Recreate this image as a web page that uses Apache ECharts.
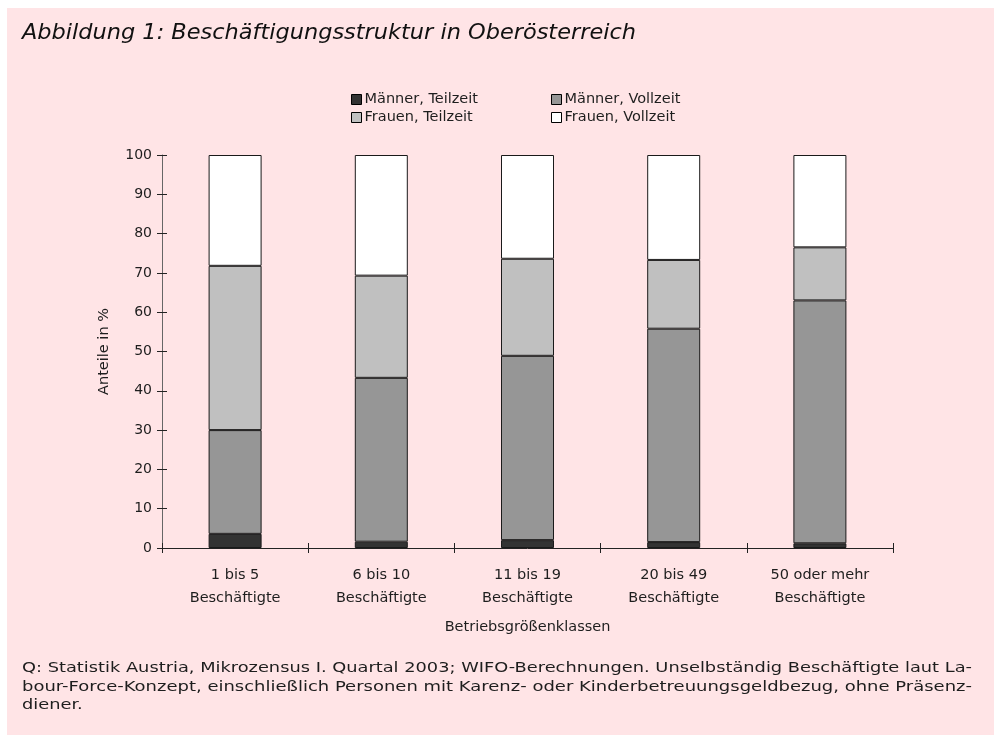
<!DOCTYPE html>
<html>
<head>
<meta charset="utf-8">
<script src="https://cdn.jsdelivr.net/npm/echarts@6/dist/echarts.min.js"></script>
<style>
  html, body { margin: 0; padding: 0; background: #ffffff; }
  #chart { width: 994px; height: 735px; }
</style>
</head>
<body>
<div id="chart"></div>
<script>
// Betriebsgrößenklassen (size classes of establishments)
const categories = ['1 bis 5\nBeschäftigte', '6 bis 10\nBeschäftigte', '11 bis 19\nBeschäftigte', '20 bis 49\nBeschäftigte', '50 oder mehr\nBeschäftigte'];

// Shares in percent, stacked from bottom to top
const maennerTeilzeit = [3.6, 1.6, 2.0, 1.5, 1.2];
const maennerVollzeit = [26.4, 41.7, 46.9, 54.3, 61.8];
const frauenTeilzeit = [41.8, 26.0, 24.7, 17.5, 13.5];
const frauenVollzeit = [28.2, 30.7, 26.4, 26.7, 23.5];

const seriesNames = ['Männer, Teilzeit', 'Männer, Vollzeit', 'Frauen, Teilzeit', 'Frauen, Vollzeit'];
const seriesData = [maennerTeilzeit, maennerVollzeit, frauenTeilzeit, frauenVollzeit];
const seriesColors = ['#333333', '#969696', '#c0c0c0', '#ffffff'];

const titleText = 'Abbildung 1: Beschäftigungsstruktur in Oberösterreich';
const noteLines = [
  'Q: Statistik Austria, Mikrozensus I. Quartal 2003; WIFO-Berechnungen. Unselbständig Beschäftigte laut La-',
  'bour-Force-Konzept, einschließlich Personen mit Karenz- oder Kinderbetreuungsgeldbezug, ohne Präsenz-',
  'diener.'
];

const FONT = 'DejaVu Sans';
const TEXT = '#1e1e1e';

// Horizontal stretch factor so a line fills a given width (used for the
// justified source note and the wide title face).
const measureCtx = document.createElement('canvas').getContext('2d');
function stretchTo(text, font, width) {
  measureCtx.font = font;
  return width / measureCtx.measureText(text).width;
}

const titleFont = 'italic 21px "' + FONT + '"';
const noteFont = '14.5px "' + FONT + '"';
const noteStretch = stretchTo(noteLines[0], noteFont, 950);

const chart = echarts.init(document.getElementById('chart'), null, { renderer: 'canvas' });

// One legend per entry, laid out as a 2x2 block
const legendSlots = [[351, 92], [551, 92], [351, 110], [551, 110]];
const legends = seriesNames.map((name, i) => ({
  left: legendSlots[i][0],
  top: legendSlots[i][1],
  padding: 0,
  itemWidth: 10,
  itemHeight: 10,
  itemGap: 0,
  icon: 'rect',
  itemStyle: { borderColor: '#000', borderWidth: 1 },
  textStyle: { fontFamily: FONT, fontSize: 14.5, color: TEXT, padding: [0, 0, 0, -2] },
  selectedMode: false,
  data: [name]
}));

const option = {
  backgroundColor: '#ffffff',
  animation: false,
  graphic: [
    { type: 'rect', z: -10, silent: true, shape: { x: 7, y: 8, width: 987, height: 727 }, style: { fill: '#ffe4e6' } },
    {
      type: 'text', x: 22, y: 23, scaleX: stretchTo(titleText, titleFont, 614),
      style: { text: titleText, font: titleFont, fill: '#111' }
    },
    ...noteLines.map((line, i) => ({
      type: 'text', x: 22, y: 661 + i * 18.5,
      scaleX: i < 2 ? stretchTo(line, noteFont, 950) : noteStretch,
      style: { text: line, font: noteFont, fill: TEXT }
    }))
  ],
  legend: legends,
  grid: { left: 162, right: 101, top: 155, bottom: 187, containLabel: false },
  xAxis: [
    {
      type: 'category',
      data: categories,
      boundaryGap: true,
      name: 'Betriebsgrößenklassen',
      nameLocation: 'middle',
      nameGap: 72,
      nameTextStyle: { fontFamily: FONT, fontSize: 14.5, color: TEXT },
      axisLine: { lineStyle: { color: '#222', width: 1 } },
      axisTick: { show: true, length: 5, lineStyle: { color: '#222' } },
      axisLabel: { fontFamily: FONT, fontSize: 14.5, color: TEXT, margin: 16, lineHeight: 23 }
    },
    {
      type: 'category',
      data: categories,
      position: 'bottom',
      boundaryGap: true,
      axisLine: { show: false },
      axisTick: { show: true, inside: true, length: 5, lineStyle: { color: '#222' } },
      axisLabel: { show: false }
    }
  ],
  yAxis: [
    {
      type: 'value',
      min: 0, max: 100, interval: 10,
      name: 'Anteile in %',
      nameLocation: 'middle',
      nameGap: 50,
      nameTextStyle: { fontFamily: FONT, fontSize: 14.5, color: TEXT },
      axisLine: { show: true, lineStyle: { color: '#666', width: 1 } },
      axisTick: { show: true, length: 5, lineStyle: { color: '#222' } },
      axisLabel: { fontFamily: FONT, fontSize: 14, color: TEXT, margin: 10 },
      splitLine: { show: false }
    },
    {
      type: 'value',
      min: 0, max: 100, interval: 10,
      position: 'left',
      axisLine: { show: false },
      axisTick: { show: true, inside: true, length: 5, lineStyle: { color: '#222' } },
      axisLabel: { show: false },
      splitLine: { show: false }
    }
  ],
  series: seriesNames.map((name, i) => ({
    name: name,
    type: 'bar',
    stack: 'total',
    barWidth: 53,
    data: seriesData[i],
    itemStyle: { color: seriesColors[i], borderColor: '#1a1a1a', borderWidth: 1 },
    emphasis: { disabled: true }
  }))
};

chart.setOption(option);
</script>
</body>
</html>
